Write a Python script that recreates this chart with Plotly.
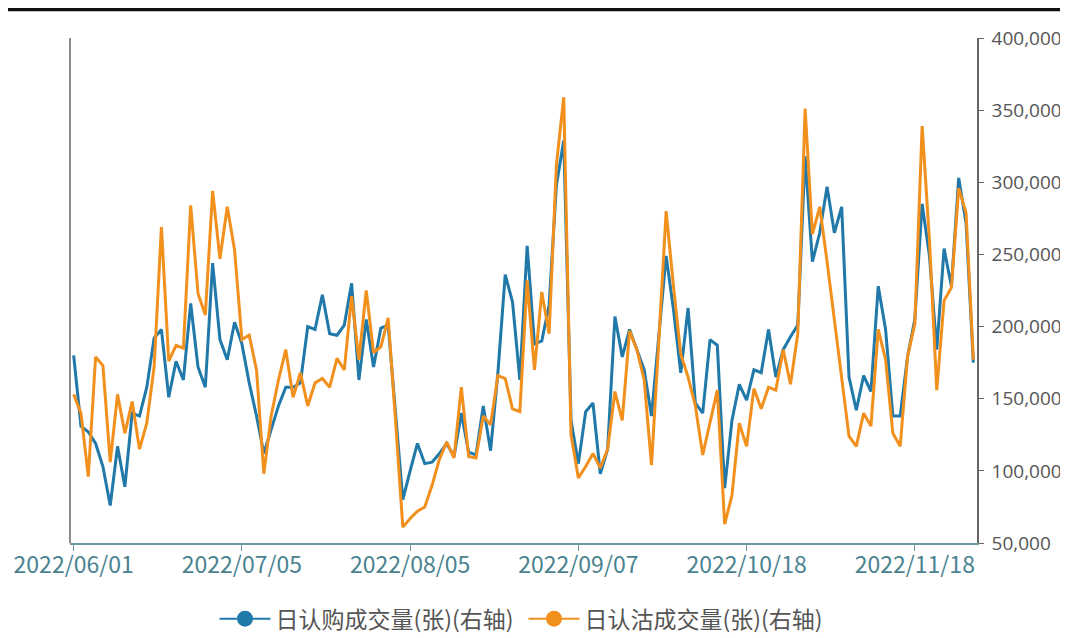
import pandas as pd
import plotly.graph_objects as go

# trading-day categories (2022/06/01 - 2022/11/30, SSE calendar)
holidays = ["2022-06-03", "2022-09-12", "2022-10-03", "2022-10-04",
            "2022-10-05", "2022-10-06", "2022-10-07"]
days = [d for d in pd.bdate_range("2022-06-01", "2022-11-30")
        if d.strftime("%Y-%m-%d") not in holidays]
dates = [d.strftime("%Y/%m/%d") for d in days]

tick_labels = ["2022/06/01", "2022/07/05", "2022/08/05",
               "2022/09/07", "2022/10/18", "2022/11/18"]

call_volume = [
    180000, 131000, 127000, 119000, 103000, 76000, 117000, 89000, 140000, 138000,
    158000, 192000, 198000, 151000, 176000, 163000, 216000, 172000, 158000, 244000,
    191000, 177000, 203000, 188000, 161000, 138000, 112000, 128000, 145000, 158000,
    158000, 161000, 200000, 198000, 222000, 195000, 194000, 201000, 230000, 163000,
    205000, 172000, 199000, 201000, 142000, 80000, 100000, 119000, 105000, 106000,
    112000, 119000, 110000, 140000, 113000, 111000, 145000, 114000, 168000, 236000,
    217000, 163000, 256000, 188000, 190000, 215000, 298000, 329000, 135000, 105000,
    141000, 147000, 98000, 115000, 207000, 179000, 198000, 184000, 170000, 138000,
    195000, 249000, 212000, 168000, 213000, 147000, 140000, 191000, 187000, 88000,
    135000, 160000, 149000, 170000, 168000, 198000, 165000, 184000, 193000, 201000,
    318000, 245000, 265000, 297000, 265000, 283000, 165000, 142000, 166000, 155000,
    228000, 198000, 138000, 138000, 179000, 205000, 285000, 249000, 184000, 254000,
    228000, 303000, 272000, 175000,
]

put_volume = [
    153000, 140000, 96000, 179000, 173000, 106000, 153000, 126000, 148000, 115000,
    133000, 172000, 269000, 176000, 187000, 185000, 284000, 223000, 208000, 294000,
    247000, 283000, 253000, 191000, 194000, 170000, 98000, 138000, 163000, 184000,
    151000, 168000, 145000, 161000, 164000, 158000, 178000, 170000, 221000, 177000,
    225000, 182000, 186000, 206000, 135000, 61000, 67000, 72000, 75000, 90000,
    108000, 120000, 109000, 158000, 110000, 109000, 138000, 132000, 166000, 164000,
    143000, 141000, 232000, 170000, 224000, 195000, 312000, 359000, 125000, 95000,
    103000, 112000, 102000, 115000, 155000, 135000, 197000, 184000, 163000, 104000,
    190000, 280000, 228000, 181000, 165000, 145000, 111000, 133000, 156000, 63000,
    83000, 133000, 117000, 157000, 143000, 158000, 156000, 184000, 160000, 195000,
    351000, 264000, 283000, 245000, 205000, 165000, 124000, 117000, 140000, 131000,
    198000, 177000, 126000, 117000, 179000, 202000, 339000, 260000, 156000, 218000,
    227000, 296000, 279000, 177000,
]

series_names = ["日认购成交量(张)(右轴)", "日认沽成交量(张)(右轴)"]
colors = ["#2079a8", "#f2901e"]

fig = go.Figure()
for name, vals, col in zip(series_names, [call_volume, put_volume], colors):
    fig.add_trace(go.Scatter(x=dates, y=vals, mode="lines", name=name,
                             line=dict(color=col, width=3), showlegend=False,
                             hoverinfo="x+y"))
for name, col in zip(series_names, colors):
    fig.add_trace(go.Scatter(x=[None], y=[None], mode="lines+markers", name=name,
                             line=dict(color=col, width=2),
                             marker=dict(color=col, size=16)))

fig.update_layout(
    width=1060, height=630,
    margin=dict(l=62, r=91, t=30, b=95, autoexpand=False),
    paper_bgcolor="white", plot_bgcolor="white",
    font=dict(family="Noto Sans CJK SC, Noto Sans, sans-serif", color="#555"),
    legend=dict(orientation="h", x=0.5, xanchor="center", y=-0.15,
                yanchor="middle", itemwidth=51,
                entrywidth=243, entrywidthmode="pixels",
                font=dict(size=23, color="#555",
                          family="Noto Sans CJK SC, sans-serif")),
    xaxis=dict(type="category", categoryorder="array", categoryarray=dates,
               range=[-0.5, len(dates) - 0.5], automargin=False,
               tickmode="array", tickvals=tick_labels, ticktext=tick_labels,
               ticks="outside", ticklen=6, tickcolor="#6f9aa3",
               ticklabelstandoff=-5,
               showline=True, linecolor="#6f9aa3", linewidth=1.5,
               showgrid=False, zeroline=False,
               tickfont=dict(size=23, color="#4a8290",
                             family="Noto Sans CJK SC, Noto Sans, sans-serif")),
    yaxis=dict(side="right", range=[50000, 400000], dtick=50000, tick0=50000,
               tickformat=",", ticks="outside", ticklen=5, tickcolor="#666",
               ticklabelstandoff=4, automargin=False,
               showline=True, linecolor="#666", linewidth=1.5,
               showgrid=False, zeroline=False,
               tickfont=dict(size=19, color="#555",
                             family="Open Sans, Noto Sans, sans-serif")),
    shapes=[
        dict(type="line", xref="paper", yref="paper", x0=0, x1=0, y0=0, y1=1,
             line=dict(color="#666", width=1.5)),
        dict(type="line", xref="paper", yref="paper", x0=-0.07, x1=1.11,
             y0=1.0564, y1=1.0564, line=dict(color="#111", width=3.5)),
    ],
)

fig.write_html("out.html")
